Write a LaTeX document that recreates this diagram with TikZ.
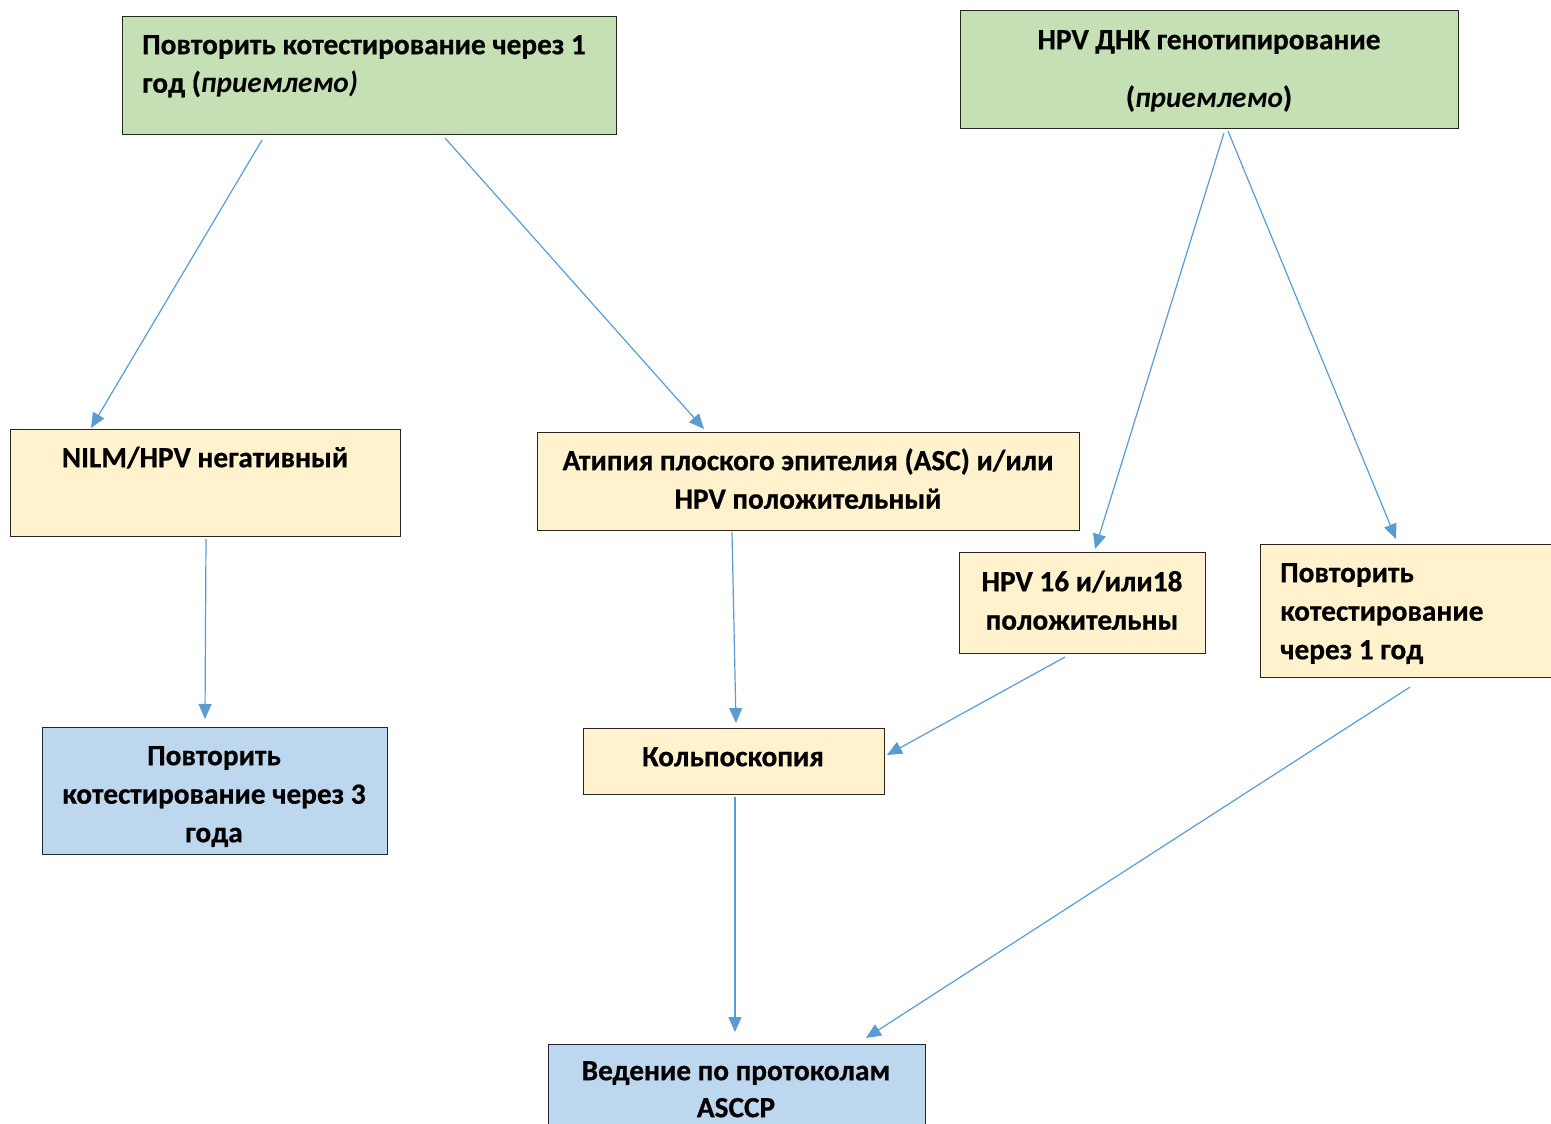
\documentclass[tikz,border=0pt]{standalone}
\usepackage{fontspec}
\setmainfont{Carlito}[BoldFeatures={FakeBold=0.6}]
\usetikzlibrary{arrows.meta}

\definecolor{boxgreen}{HTML}{C5E0B4}
\definecolor{boxyellow}{HTML}{FFF2CC}
\definecolor{boxblue}{HTML}{BDD7EE}
\definecolor{flowblue}{HTML}{5B9BD5}

% strut fixing the height of the first text line
\newcommand\topstrut{\rule{0pt}{24pt}}

\begin{document}
\begin{tikzpicture}[x=1pt,y=-1pt,
  panel/.style={draw=black!85, line width=0.9pt},
  greenbox/.style={panel, fill=boxgreen},
  yellowbox/.style={panel, fill=boxyellow},
  bluebox/.style={panel, fill=boxblue},
  label/.style={inner sep=0pt, font=\fontsize{29.3}{38.5}\selectfont\bfseries},
  flow/.style={draw=flowblue, line width=1.2pt, -{Triangle[length=15pt,width=13pt]}}
]
\useasboundingbox (0,0) rectangle (1551,1124);

% boxes
\path[greenbox]  (122,16)   rectangle (616,134);
\path[greenbox]  (960,10)   rectangle (1458,128);
\path[yellowbox] (10,429)   rectangle (400,536);
\path[yellowbox] (537,432)  rectangle (1079,530);
\path[yellowbox] (959,552)  rectangle (1205,653);
\path[yellowbox] (1260,544) rectangle (1570,677);
\path[bluebox]   (42,727)   rectangle (387,854);
\path[yellowbox] (583,728)  rectangle (884,794);
\path[bluebox]   (548,1044) rectangle (925,1140);

% texts
\node[label, anchor=north west, align=left] (t1) at (142,30)
  {\topstrut Повторить котестирование через 1\\год (\textit{приемлемо)}};
\node[label, anchor=north, align=center] (t2) at (1209,25)
  {\topstrut HPV ДНК генотипирование\\[19.5pt](\textit{приемлемо})};
\node[label, anchor=north, align=center] (t3) at (205,443)
  {\topstrut NILM/HPV негативный};
\node[label, anchor=north, align=center] (t4) at (808,446)
  {\topstrut Атипия плоского эпителия (ASC) и/или\\HPV положительный};
\node[label, anchor=north, align=center] (t5) at (1082,567)
  {\topstrut HPV 16 и/или18\\положительны};
\node[label, anchor=north west, align=left] (t6) at (1280,558)
  {\topstrut Повторить\\котестирование\\через 1 год};
\node[label, anchor=north, align=center] (t7) at (214,741)
  {\topstrut Повторить\\котестирование через 3\\года};
\node[label, anchor=north, align=center] (t8) at (733,742)
  {\topstrut Кольпоскопия};
\node[label, anchor=north, align=center, font=\fontsize{29.3}{37}\selectfont\bfseries] (t9) at (736,1056)
  {\topstrut Ведение по протоколам\\ASCCP};

% connector end points
\coordinate (c1a) at (262,140);  \coordinate (c1b) at (91,428);
\coordinate (c2a) at (445,138);  \coordinate (c2b) at (704,429);
\coordinate (c3a) at (206,539);  \coordinate (c3b) at (205,719);
\coordinate (c4a) at (732,532);  \coordinate (c4b) at (736,723);
\coordinate (c5a) at (1224,133); \coordinate (c5b) at (1095,549);
\coordinate (c6a) at (1228,131); \coordinate (c6b) at (1396,539);
\coordinate (c7a) at (1065,657); \coordinate (c7b) at (887,755);
\coordinate (c8a) at (735,797);  \coordinate (c8b) at (735,1032);
\coordinate (c9a) at (1410,687); \coordinate (c9b) at (866,1038);

% connectors
\draw[flow] (c1a) -- (c1b);
\draw[flow] (c2a) -- (c2b);
\draw[flow] (c3a) -- (c3b);
\draw[flow] (c4a) -- (c4b);
\draw[flow] (c5a) -- (c5b);
\draw[flow] (c6a) -- (c6b);
\draw[flow] (c7a) -- (c7b);
\draw[flow] (c8a) -- (c8b);
\draw[flow] (c9a) -- (c9b);
\end{tikzpicture}
\end{document}
